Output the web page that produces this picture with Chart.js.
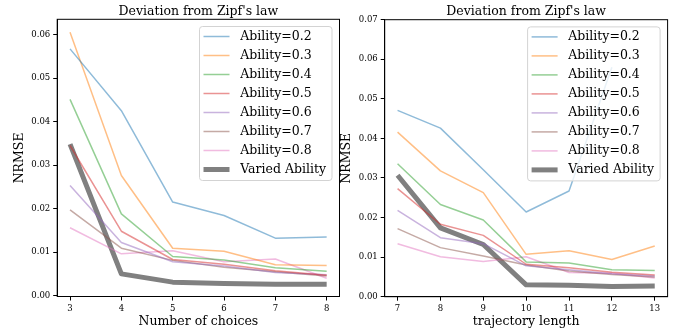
<!DOCTYPE html>
<html>
<head>
<meta charset="utf-8">
<script src="https://cdn.jsdelivr.net/npm/chart.js@4.4.1/dist/chart.umd.min.js"></script>
<style>
  html, body { margin: 0; padding: 0; background: #fff; }
  #wrap { position: relative; width: 676px; height: 332px; }
  canvas { position: absolute; left: 0; top: 0; }
</style>
</head>
<body>
<div id="wrap">
  <canvas id="leftChart" width="676" height="332"></canvas>
  <canvas id="rightChart" width="676" height="332"></canvas>
</div>
<script>
// x values (also the x tick labels)
const choices = [3, 4, 5, 6, 7, 8];
const trajLengths = [7, 8, 9, 10, 11, 12, 13];

// y tick labels
const leftYTicks = [0, 0.01, 0.02, 0.03, 0.04, 0.05, 0.06];
const rightYTicks = [0, 0.01, 0.02, 0.03, 0.04, 0.05, 0.06, 0.07];

const seriesLabels = ['Ability=0.2', 'Ability=0.3', 'Ability=0.4', 'Ability=0.5',
    'Ability=0.6', 'Ability=0.7', 'Ability=0.8', 'Varied Ability'];

// Left panel: NRMSE vs number of choices
const choicesA02 = [0.0567, 0.0425, 0.0215, 0.0184, 0.0132, 0.0135];
const choicesA03 = [0.0605, 0.0276, 0.0109, 0.0102, 0.0071, 0.0069];
const choicesA04 = [0.0451, 0.0188, 0.0090, 0.0082, 0.0064, 0.0056];
const choicesA05 = [0.0345, 0.0148, 0.0083, 0.0072, 0.0057, 0.0047];
const choicesA06 = [0.0253, 0.0122, 0.0078, 0.0068, 0.0053, 0.0048];
const choicesA07 = [0.0197, 0.0109, 0.0081, 0.0065, 0.0055, 0.0045];
const choicesA08 = [0.0156, 0.0096, 0.0103, 0.0078, 0.0084, 0.0040];
const choicesVaried = [0.0348, 0.0050, 0.0031, 0.0028, 0.0026, 0.0026];

// Right panel: NRMSE vs trajectory length
const trajA02 = [0.0471, 0.0426, 0.0321, 0.0214, 0.0267, 0.0580, null];
const trajA03 = [0.0416, 0.0318, 0.0263, 0.0107, 0.0116, 0.0094, 0.0128];
const trajA04 = [0.0336, 0.0233, 0.0194, 0.0088, 0.0085, 0.0068, 0.0066];
const trajA05 = [0.0273, 0.0183, 0.0155, 0.0082, 0.0073, 0.0062, 0.0055];
const trajA06 = [0.0218, 0.0149, 0.0134, 0.0078, 0.0068, 0.0058, 0.0052];
const trajA07 = [0.0172, 0.0124, 0.0103, 0.0080, 0.0065, 0.0056, 0.0050];
const trajA08 = [0.0134, 0.0101, 0.0089, 0.0101, 0.0061, 0.0059, 0.0047];
const trajVaried = [0.0307, 0.0174, 0.0132, 0.0030, 0.0029, 0.0026, 0.0027];

// matplotlib tab10 colours at alpha 0.5, plus gray for the varied run
const lineColors = [
    'rgba(31, 119, 180, 0.5)',
    'rgba(255, 127, 14, 0.5)',
    'rgba(44, 160, 44, 0.5)',
    'rgba(214, 39, 40, 0.5)',
    'rgba(148, 103, 189, 0.5)',
    'rgba(140, 86, 75, 0.5)',
    'rgba(227, 119, 194, 0.5)',
    'rgb(128, 128, 128)'
];

const FONT = '"DejaVu Serif", "Liberation Serif", serif';
Chart.defaults.font.family = FONT;
Chart.defaults.color = '#000';

// Draws the full axes frame, the title and a legend on top of the lines
const frameAndLegend = {
    id: 'frameAndLegend',
    afterDraw(chart, args, opts) {
        const ctx = chart.ctx;
        const a = chart.chartArea;
        ctx.save();

        ctx.strokeStyle = '#000';
        ctx.lineWidth = 1;
        ctx.strokeRect(a.left, a.top, a.right - a.left, a.bottom - a.top);

        ctx.fillStyle = '#000';
        ctx.font = '12.5px ' + FONT;
        ctx.textAlign = 'center';
        ctx.textBaseline = 'alphabetic';
        ctx.fillText(opts.title, (a.left + a.right) / 2, 15);

        const w = 132.5, h = 154;
        const bx = a.right - 7.5 - w;
        const by = a.top + 7.2;
        ctx.beginPath();
        ctx.roundRect(bx, by, w, h, 3);
        ctx.fillStyle = 'rgba(255, 255, 255, 0.8)';
        ctx.fill();
        ctx.strokeStyle = '#d3d3d3';
        ctx.lineWidth = 1;
        ctx.stroke();

        chart.data.datasets.forEach((ds, i) => {
            const y = by + 10 + i * 19;
            ctx.beginPath();
            ctx.moveTo(bx + 4, y);
            ctx.lineTo(bx + 30, y);
            ctx.strokeStyle = ds.borderColor;
            ctx.lineWidth = ds.borderWidth;
            ctx.lineCap = 'butt';
            ctx.stroke();
            ctx.fillStyle = '#000';
            ctx.textAlign = 'left';
            ctx.textBaseline = 'middle';
            ctx.fillText(ds.label, bx + 40.7, y);
        });
        ctx.restore();
    }
};

function buildDatasets(xs, seriesList) {
    return seriesList.map((vals, i) => ({
        label: seriesLabels[i],
        data: xs.map((x, j) => ({ x: x, y: vals[j] })),
        borderColor: lineColors[i],
        backgroundColor: lineColors[i],
        borderWidth: i === 7 ? 5 : 1.5,
        borderJoinStyle: 'round',
        pointRadius: 0,
        tension: 0,
        spanGaps: false
    }));
}

function makeChart(id, cfg) {
    const tickFont = { family: FONT, size: 8.5 };
    const titleFont = { family: FONT, size: 12.5 };
    return new Chart(document.getElementById(id), {
        type: 'line',
        data: { datasets: buildDatasets(cfg.xs, cfg.series) },
        plugins: [frameAndLegend],
        options: {
            responsive: false,
            animation: false,
            layout: { padding: cfg.padding },
            plugins: {
                legend: { display: false },
                tooltip: { enabled: false },
                frameAndLegend: { title: "Deviation from Zipf's law" }
            },
            scales: {
                x: {
                    type: 'linear',
                    min: cfg.xMin,
                    max: cfg.xMax,
                    afterBuildTicks: scale => { scale.ticks = cfg.xs.map(v => ({ value: v })); },
                    afterFit: scale => { scale.height = cfg.xAxisHeight; },
                    ticks: { font: tickFont, padding: 3, autoSkip: false, maxRotation: 0, color: '#000' },
                    grid: { display: true, drawOnChartArea: false, drawTicks: true, tickLength: 4, color: '#000' },
                    border: { display: true, color: '#000', width: 1 },
                    title: { display: true, text: cfg.xTitle, font: titleFont, color: '#000', padding: { top: 2, bottom: 3 } }
                },
                y: {
                    type: 'linear',
                    min: cfg.yMin,
                    max: cfg.yMax,
                    afterBuildTicks: scale => { scale.ticks = cfg.yTicks.map(v => ({ value: v })); },
                    afterFit: scale => { scale.width = 50; },
                    ticks: { font: tickFont, padding: 3, autoSkip: false, color: '#000',
                        callback: v => v.toFixed(2) },
                    grid: { display: true, drawOnChartArea: false, drawTicks: true, tickLength: 4, color: '#000' },
                    border: { display: true, color: '#000', width: 1 },
                    title: { display: true, text: 'NRMSE', font: titleFont, color: '#000', padding: { top: 5, bottom: 4 } }
                }
            }
        }
    });
}

makeChart('leftChart', {
    xs: choices,
    series: [choicesA02, choicesA03, choicesA04, choicesA05, choicesA06, choicesA07, choicesA08, choicesVaried],
    xMin: 2.75, xMax: 8.25,
    yMin: -0.0002, yMax: 0.0635,
    yTicks: leftYTicks,
    xTitle: 'Number of choices',
    xAxisHeight: 35.5,
    padding: { left: 7.2, top: 19.3, right: 336.5, bottom: 0 }
});

makeChart('rightChart', {
    xs: trajLengths,
    series: [trajA02, trajA03, trajA04, trajA05, trajA06, trajA07, trajA08, trajVaried],
    xMin: 6.7, xMax: 13.3,
    yMin: 0, yMax: 0.07,
    yTicks: rightYTicks,
    xTitle: 'trajectory length',
    xAxisHeight: 35.3,
    padding: { left: 334.7, top: 19.7, right: 8.4, bottom: 0 }
});
</script>
</body>
</html>
